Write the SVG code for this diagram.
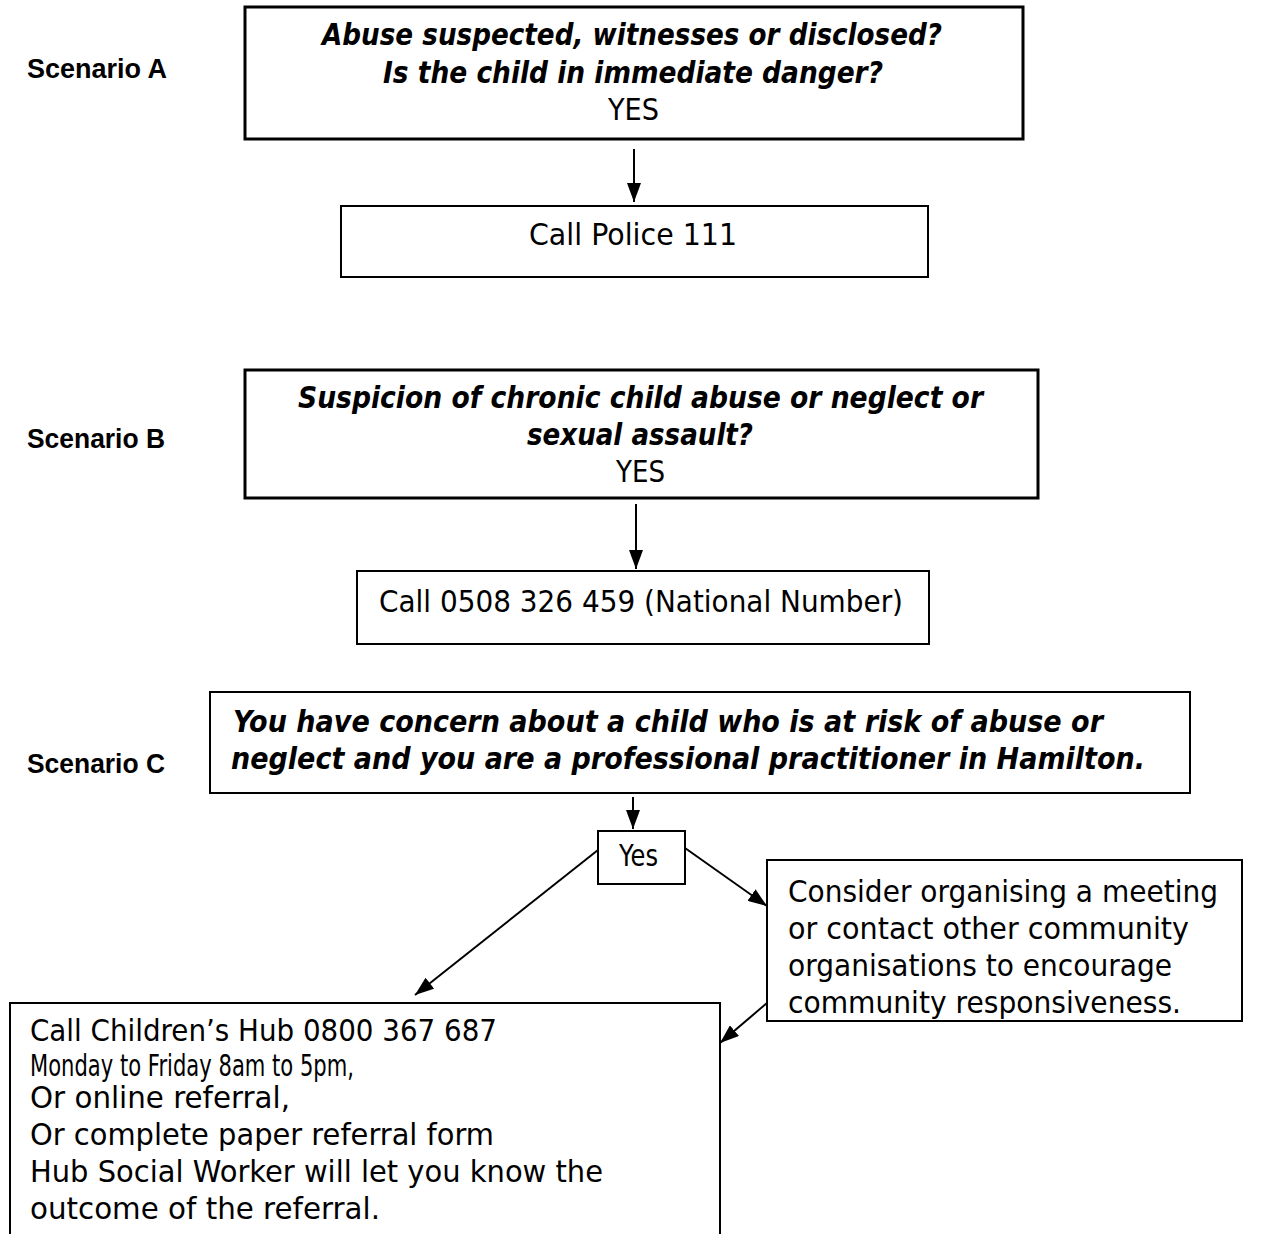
<svg xmlns="http://www.w3.org/2000/svg" width="1264" height="1234" viewBox="0 0 1264 1234">
<style>
.bg{fill:#fff}
.box{fill:#fff;stroke:#000;stroke-width:2}
.thick{stroke-width:3}
.t{font-family:"DejaVu Sans","Liberation Sans",sans-serif;font-size:30px;fill:#000}
.i{font-style:italic;font-weight:bold}
.lab{font-family:"Liberation Sans","DejaVu Sans",sans-serif;font-size:28px;font-weight:bold;fill:#000}
.mid{text-anchor:middle}
.conn line{stroke:#000;stroke-width:2;fill:none;marker-end:url(#ah)}
</style>
<defs>
<marker id="ah" markerUnits="userSpaceOnUse" markerWidth="19" markerHeight="14" refX="19" refY="7" orient="auto">
<path d="M0,0 L19,7 L0,14 z" fill="#000"/>
</marker>
</defs>
<rect class="bg" x="0" y="0" width="1264" height="1234"/>

<g id="labels">
<text class="lab" x="27" y="78" textLength="140" lengthAdjust="spacingAndGlyphs">Scenario A</text>
<text class="lab" x="27" y="448" textLength="138" lengthAdjust="spacingAndGlyphs">Scenario B</text>
<text class="lab" x="27" y="773" textLength="138" lengthAdjust="spacingAndGlyphs">Scenario C</text>
</g>

<g id="nodeA">
<rect class="box thick" x="245" y="7" width="778" height="132"/>
<text class="t i mid" x="632" y="45" font-size="28" textLength="620" lengthAdjust="spacingAndGlyphs">Abuse suspected, witnesses or disclosed?</text>
<text class="t i mid" x="633" y="83" font-size="28" textLength="500" lengthAdjust="spacingAndGlyphs">Is the child in immediate danger?</text>
<text class="t mid" x="633.5" y="120" font-size="31" textLength="51" lengthAdjust="spacingAndGlyphs">YES</text>
</g>

<g id="nodePolice">
<rect class="box" x="341" y="206" width="587" height="71"/>
<text class="t mid" x="633" y="245" textLength="208" lengthAdjust="spacingAndGlyphs">Call Police 111</text>
</g>

<g id="nodeB">
<rect class="box thick" x="245" y="370" width="793" height="128"/>
<text class="t i mid" x="640.5" y="408" font-size="28" textLength="685" lengthAdjust="spacingAndGlyphs">Suspicion of chronic child abuse or neglect or</text>
<text class="t i mid" x="640" y="445" font-size="28" textLength="226" lengthAdjust="spacingAndGlyphs">sexual assault?</text>
<text class="t mid" x="640.5" y="482" font-size="31" textLength="49" lengthAdjust="spacingAndGlyphs">YES</text>
</g>

<g id="nodeNational">
<rect class="box" x="357" y="571" width="572" height="73"/>
<text class="t mid" x="641" y="612" textLength="524" lengthAdjust="spacingAndGlyphs">Call 0508 326 459 (National Number)</text>
</g>

<g id="nodeC">
<rect class="box" x="210" y="692" width="980" height="101" stroke-width="2.5"/>
<text class="t i" x="233" y="732" font-size="29" textLength="870" lengthAdjust="spacingAndGlyphs">You have concern about a child who is at risk of abuse or</text>
<text class="t i" x="231" y="769" font-size="29" textLength="914" lengthAdjust="spacingAndGlyphs">neglect and you are a professional practitioner in Hamilton.</text>
</g>

<g id="nodeYes">
<rect class="box" x="598" y="831" width="87" height="53"/>
<text class="t mid" x="638.5" y="866" font-size="26" textLength="39" lengthAdjust="spacingAndGlyphs">Yes</text>
</g>

<g id="nodeConsider">
<rect class="box" x="767" y="860" width="475" height="161"/>
<text class="t" x="788" y="902" textLength="430" lengthAdjust="spacingAndGlyphs">Consider organising a meeting</text>
<text class="t" x="788" y="939" textLength="401" lengthAdjust="spacingAndGlyphs">or contact other community</text>
<text class="t" x="788" y="976" textLength="384" lengthAdjust="spacingAndGlyphs">organisations to encourage</text>
<text class="t" x="788" y="1013" textLength="393" lengthAdjust="spacingAndGlyphs">community responsiveness.</text>
</g>

<g id="nodeHub">
<path d="M10,1240 L10,1003 L720,1003 L720,1240" fill="#fff" stroke="#000" stroke-width="2"/>
<text class="t" x="30" y="1041" font-size="29" textLength="467" lengthAdjust="spacingAndGlyphs">Call Children’s Hub 0800 367 687</text>
<text class="t" x="30" y="1076" font-size="18" textLength="324" lengthAdjust="spacingAndGlyphs">Monday to Friday 8am to 5pm,</text>
<text class="t" x="30" y="1108" textLength="260" lengthAdjust="spacingAndGlyphs">Or online referral,</text>
<text class="t" x="30" y="1145" textLength="464" lengthAdjust="spacingAndGlyphs">Or complete paper referral form</text>
<text class="t" x="30" y="1182" textLength="573" lengthAdjust="spacingAndGlyphs">Hub Social Worker will let you know the</text>
<text class="t" x="30" y="1219" textLength="350" lengthAdjust="spacingAndGlyphs">outcome of the referral.</text>
</g>

<g id="connectors" class="conn">
<line x1="634" y1="149" x2="634" y2="202"/>
<line x1="636" y1="504" x2="636" y2="569"/>
<line x1="633" y1="797" x2="633" y2="829"/>
<line x1="598" y1="850" x2="415" y2="995"/>
<line x1="685" y1="848" x2="767" y2="906"/>
<line x1="767" y1="1003" x2="720" y2="1043"/>
</g>
</svg>
